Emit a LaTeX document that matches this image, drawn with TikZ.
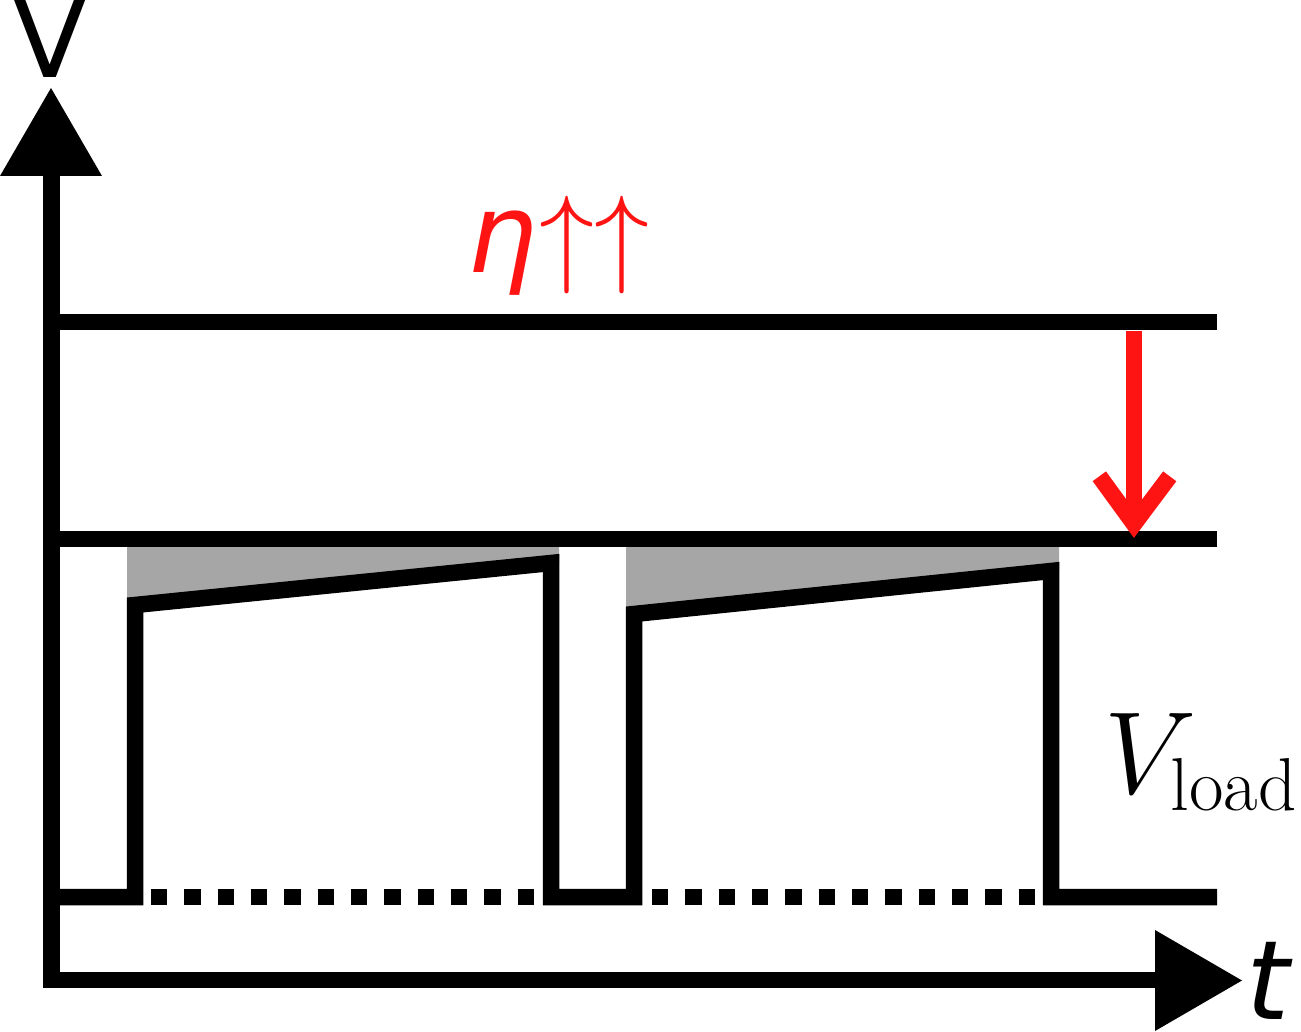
\RequirePackage{fix-cm}
\documentclass[tikz,border=0pt]{standalone}
\usepackage{fontspec}
\newfontfamily\djv{DejaVu Sans}
\definecolor{myred}{RGB}{255,20,20}
\definecolor{fillgray}{RGB}{166,166,166}
\begin{document}
\begin{tikzpicture}[x=1pt,y=-1pt,line join=miter,
  wave/.style={line width=16.5pt,line join=miter,line cap=butt},
  dotline/.style={line width=16.5pt,dash pattern=on 16.3pt off 17.03pt},
  lbl/.style={inner sep=0pt,outer sep=0pt}]
\useasboundingbox (0,0) rectangle (1301,1032);
% key coordinates
\coordinate (o) at (51.5,980);
\coordinate (ytop) at (51.5,176);
\coordinate (xend) at (1155,980);
\coordinate (hiL) at (52,322);   \coordinate (hiR) at (1217,322);
\coordinate (midL) at (52,539);  \coordinate (midR) at (1217,539);
% gray areas
\fill[fillgray] (127,539) -- (559,539) -- (559,563) -- (127,605) -- cycle;
\fill[fillgray] (626,539) -- (1059,539) -- (1059,571) -- (626,614) -- cycle;
% level lines
\draw[wave] (hiL) -- (hiR);
\draw[wave] (midL) -- (midR);
% waveform
\draw[wave] (52,897) -- (135,897) -- (135,605) -- (551,563) -- (551,897) -- (634,897)
  -- (634,614) -- (1051,571) -- (1051,897) -- (1217,897);
\draw[dotline] (151,897) -- (543,897);
\draw[dotline] (652,897) -- (1043,897);
% axes
\draw[wave] (ytop) -- (o) -- (xend);
\fill (0,176) -- (51,88) -- (102,176) -- cycle;
\fill (1155,930) -- (1242,980.5) -- (1155,1031) -- cycle;
% red arrow
\coordinate (ra) at (1134,331);
\coordinate (rb) at (1134,524);
\draw[wave,myred] (ra) -- (rb);
\draw[wave,myred] (1099.3,476.3) -- (rb) -- (1169.7,476.3);
% labels
\node[lbl,anchor=base,font=\djv\fontsize{110}{130}\selectfont] (ylabel) at (50.5,78) {V};
\node[lbl,anchor=base,font=\djv\itshape\fontsize{110}{130}\selectfont] (xlabel) at (1268,1019) {t};
\node[lbl,anchor=base west,text=myred,font=\fontsize{110}{130}\selectfont] (eta) at (467,273) {{\djv\itshape η}\kern3pt$\uparrow\uparrow$};
\node[lbl,anchor=base west,font=\fontsize{117}{140}\selectfont] (vload) at (1104,793) {$V_{\mbox{\fontsize{75}{80}\selectfont load}}$};
\end{tikzpicture}
\end{document}
